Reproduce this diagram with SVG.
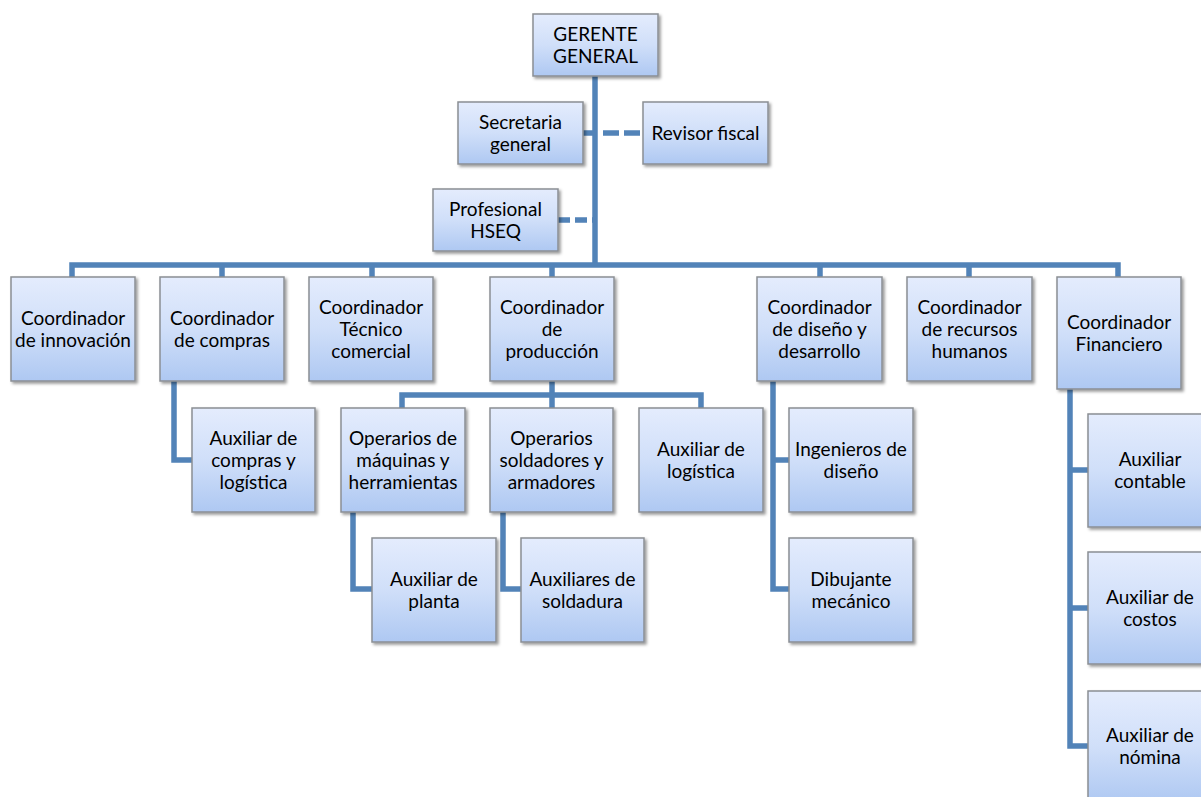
<svg xmlns="http://www.w3.org/2000/svg" width="1201" height="797" viewBox="0 0 1201 797">
<defs>
<linearGradient id="g" x1="0" y1="0" x2="0" y2="1">
<stop offset="0" stop-color="#e4ecfd"/>
<stop offset="0.5" stop-color="#d0dff9"/>
<stop offset="1" stop-color="#aec8f2"/>
</linearGradient>
<filter id="sh" x="-10%" y="-10%" width="130%" height="130%">
<feDropShadow dx="2" dy="2" stdDeviation="1.8" flood-color="#000" flood-opacity="0.4"/>
</filter>
</defs>
<style>
.b{fill:url(#g);stroke:#8a8e94;stroke-width:1.5;filter:url(#sh)}
.t{font-family:Lato,"Liberation Sans",sans-serif;font-size:19px;fill:#000;text-anchor:middle}
.c{fill:none;stroke:#5283b8;stroke-width:5.5;stroke-linejoin:miter}
.d{fill:none;stroke:#5283b8;stroke-width:5.5;stroke-dasharray:16 5}
</style>
<rect width="1201" height="797" fill="#fff"/>
<g id="connectors">
<path class="c" d="M595 76V265"/>
<path class="c" d="M72 277V265H1118V277"/>
<path class="c" d="M222 265V277M372 265V277M552 265V277M820 265V277M969 265V277"/>
<path class="c" d="M583 133H595"/>
<path class="d" d="M603 133H640"/>
<path class="d" d="M558 220H593" style="stroke-dasharray:12 5"/>
<path class="c" d="M174 381V460H192"/>
<path class="c" d="M552 381V395M402 408V395H701V408M552 395V408"/>
<path class="c" d="M353 512V589H372"/>
<path class="c" d="M503 512V589H521"/>
<path class="c" d="M773 381V589H789M773 460H789"/>
<path class="c" d="M1070 389V746H1088M1070 470H1088M1070 608H1088"/>
</g>
<g id="n-gerente"><rect class="b" x="533" y="14" width="125" height="62"/><text class="t" x="595.5" y="41">GERENTE</text><text class="t" x="595.5" y="63">GENERAL</text></g>
<g id="n-secretaria"><rect class="b" x="458" y="102" width="125" height="62"/><text class="t" x="520.5" y="129">Secretaria</text><text class="t" x="520.5" y="151">general</text></g>
<g id="n-revisor"><rect class="b" x="643" y="102" width="125" height="62"/><text class="t" x="705.5" y="140">Revisor fiscal</text></g>
<g id="n-hseq"><rect class="b" x="433" y="189" width="125" height="62"/><text class="t" x="495.5" y="216">Profesional</text><text class="t" x="495.5" y="238">HSEQ</text></g>
<g id="n-innovacion"><rect class="b" x="11" y="277" width="124" height="104"/><text class="t" x="73" y="325">Coordinador</text><text class="t" x="73" y="347">de innovación</text></g>
<g id="n-compras"><rect class="b" x="160" y="277" width="124" height="104"/><text class="t" x="222" y="325">Coordinador</text><text class="t" x="222" y="347">de compras</text></g>
<g id="n-tecnico"><rect class="b" x="309" y="277" width="124" height="104"/><text class="t" x="371" y="314">Coordinador</text><text class="t" x="371" y="336">Técnico</text><text class="t" x="371" y="358">comercial</text></g>
<g id="n-produccion"><rect class="b" x="490" y="277" width="124" height="104"/><text class="t" x="552" y="314">Coordinador</text><text class="t" x="552" y="336">de</text><text class="t" x="552" y="358">producción</text></g>
<g id="n-diseno"><rect class="b" x="757" y="277" width="125" height="104"/><text class="t" x="819.5" y="314">Coordinador</text><text class="t" x="819.5" y="336">de diseño y</text><text class="t" x="819.5" y="358">desarrollo</text></g>
<g id="n-rrhh"><rect class="b" x="907" y="277" width="125" height="104"/><text class="t" x="969.5" y="314">Coordinador</text><text class="t" x="969.5" y="336">de recursos</text><text class="t" x="969.5" y="358">humanos</text></g>
<g id="n-financiero"><rect class="b" x="1057" y="277" width="124" height="112"/><text class="t" x="1119" y="329">Coordinador</text><text class="t" x="1119" y="351">Financiero</text></g>
<g id="n-aux-compras"><rect class="b" x="192" y="408" width="123" height="104"/><text class="t" x="253.5" y="445">Auxiliar de</text><text class="t" x="253.5" y="467">compras y</text><text class="t" x="253.5" y="489">logística</text></g>
<g id="n-op-maquinas"><rect class="b" x="341" y="408" width="124" height="104"/><text class="t" x="403" y="445">Operarios de</text><text class="t" x="403" y="467">máquinas y</text><text class="t" x="403" y="489">herramientas</text></g>
<g id="n-op-soldadores"><rect class="b" x="490" y="408" width="123" height="104"/><text class="t" x="551.5" y="445">Operarios</text><text class="t" x="551.5" y="467">soldadores y</text><text class="t" x="551.5" y="489">armadores</text></g>
<g id="n-aux-logistica"><rect class="b" x="639" y="408" width="124" height="104"/><text class="t" x="701" y="456">Auxiliar de</text><text class="t" x="701" y="478">logística</text></g>
<g id="n-aux-planta"><rect class="b" x="372" y="538" width="124" height="104"/><text class="t" x="434" y="586">Auxiliar de</text><text class="t" x="434" y="608">planta</text></g>
<g id="n-aux-soldadura"><rect class="b" x="521" y="538" width="123" height="104"/><text class="t" x="582.5" y="586">Auxiliares de</text><text class="t" x="582.5" y="608">soldadura</text></g>
<g id="n-ingenieros"><rect class="b" x="789" y="408" width="124" height="104"/><text class="t" x="851" y="456">Ingenieros de</text><text class="t" x="851" y="478">diseño</text></g>
<g id="n-dibujante"><rect class="b" x="789" y="538" width="124" height="104"/><text class="t" x="851" y="586">Dibujante</text><text class="t" x="851" y="608">mecánico</text></g>
<g id="n-aux-contable"><rect class="b" x="1088" y="414" width="124" height="113"/><text class="t" x="1150" y="466">Auxiliar</text><text class="t" x="1150" y="488">contable</text></g>
<g id="n-aux-costos"><rect class="b" x="1088" y="552" width="124" height="112"/><text class="t" x="1150" y="604">Auxiliar de</text><text class="t" x="1150" y="626">costos</text></g>
<g id="n-aux-nomina"><rect class="b" x="1088" y="691" width="124" height="112"/><text class="t" x="1150" y="742">Auxiliar de</text><text class="t" x="1150" y="764">nómina</text></g>
</svg>
